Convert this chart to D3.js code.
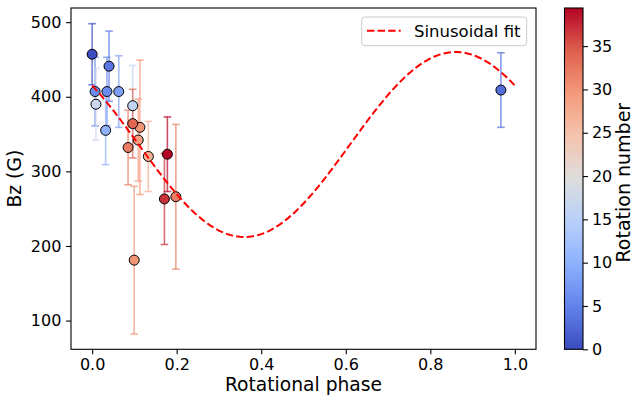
<!DOCTYPE html>
<html>
<head>
<meta charset="utf-8">
<script src="https://cdn.jsdelivr.net/npm/d3@7"></script>
<style>
  html, body { margin: 0; padding: 0; background: #fff; }
  svg { display: block; font-family: "DejaVu Sans", sans-serif; }
</style>
</head>
<body>
<svg id="chart" width="634" height="403"></svg>
<script>
// ---- data ----
const phases    = [0.000, 0.007, 0.009, 0.035, 0.040, 0.032, 0.063, 0.096, 0.096, 0.113, 0.109, 0.085, 0.133, 0.178, 0.171, 0.198, 0.0995, 0.967];
const bz        = [457,   407,   390,   407,   441,   355,   407,   388,   364,   359,   342,   332,   320,   323,   263,   266,   181,    409];
const bzErr     = [41,    46,    48,    46,    47,    46,    48,    54,    46,    90,    55,    50,    47,    50,    61,    97,    99,     50];
const rotations = [0,     6,     17,    6,     4,     10,    8,     16,    34,    30,    29,    32,    27,    39.4,  37,    32,    30,     3];

// sinusoidal fit parameters: Bz = mean + amp * cos(2*pi*(phase - peakPhase))
const fitMean = 336;
const fitAmp = 124;
const fitPeakPhase = 0.86;

const xTicks = [0.0, 0.2, 0.4, 0.6, 0.8, 1.0];
const yTicks = [100, 200, 300, 400, 500];
const cbarTicks = [0, 5, 10, 15, 20, 25, 30, 35];

// ---- layout ----
const svg = d3.select("#chart");
const plot = { left: 71, right: 536, top: 8, bottom: 349.3 };
const cbar = { left: 564.5, right: 583, top: 8, bottom: 349.3 };

const x = d3.scaleLinear().domain([-0.05, 1.05]).range([plot.left, plot.right]);
const y = d3.scaleLinear().domain([61.5, 519]).range([plot.bottom, plot.top]);
const cNorm = d3.scaleLinear().domain([0, 39.4]).range([0, 1]);

// coolwarm colormap approximation
const cwStops = [0, 0.125, 0.25, 0.375, 0.5, 0.625, 0.75, 0.875, 1];
const cwColors = ["rgb(59,76,192)", "rgb(98,130,234)", "rgb(141,176,254)", "rgb(184,208,249)",
                  "rgb(221,221,221)", "rgb(245,196,173)", "rgb(244,154,123)", "rgb(222,96,77)", "rgb(180,4,38)"];
const coolwarm = d3.scaleLinear().domain(cwStops).range(cwColors).interpolate(d3.interpolateRgb);
const colorOf = r => coolwarm(Math.max(0, Math.min(1, cNorm(r))));

const data = phases.map((p, i) => ({ p, v: bz[i], e: bzErr[i], r: rotations[i] }));

// ---- error bars ----
const capHalf = 3.8;
const eb = svg.append("g");
data.forEach(d => {
  const g = eb.append("g").attr("stroke", colorOf(d.r)).attr("stroke-opacity", 0.7).attr("stroke-width", 1.6);
  const cx = x(d.p);
  g.append("line").attr("x1", cx).attr("x2", cx).attr("y1", y(d.v - d.e)).attr("y2", y(d.v + d.e));
  g.append("line").attr("x1", cx - capHalf).attr("x2", cx + capHalf).attr("y1", y(d.v - d.e)).attr("y2", y(d.v - d.e));
  g.append("line").attr("x1", cx - capHalf).attr("x2", cx + capHalf).attr("y1", y(d.v + d.e)).attr("y2", y(d.v + d.e));
});

// ---- points ----
const sorted = data.slice().sort((a, b) => a.r - b.r);
svg.append("g").selectAll("circle").data(sorted).join("circle")
  .attr("cx", d => x(d.p)).attr("cy", d => y(d.v)).attr("r", 5)
  .attr("fill", d => colorOf(d.r)).attr("stroke", "#000").attr("stroke-width", 1);

// ---- fit line ----
const fitX = d3.range(0, 1.0001, 0.005);
const line = d3.line().x(p => x(p)).y(p => y(fitMean + fitAmp * Math.cos(2 * Math.PI * (p - fitPeakPhase))));
svg.append("path").datum(fitX).attr("d", line)
  .attr("fill", "none").attr("stroke", "red").attr("stroke-width", 2).attr("stroke-dasharray", "7.4,3.2");

// ---- axes frame ----
svg.append("rect").attr("x", plot.left).attr("y", plot.top)
  .attr("width", plot.right - plot.left).attr("height", plot.bottom - plot.top)
  .attr("fill", "none").attr("stroke", "#000").attr("stroke-width", 1.1);

const xAxis = d3.axisBottom(x).tickValues(xTicks).tickFormat(d3.format(".1f")).tickSize(4.9).tickPadding(4);
const gx = svg.append("g").attr("transform", `translate(0,${plot.bottom})`).call(xAxis);
gx.select(".domain").remove();
gx.selectAll("line").attr("stroke", "#000").attr("stroke-width", 1.1);
gx.selectAll("text").attr("font-size", 16).attr("fill", "#000").attr("font-family", "DejaVu Sans");

const yAxis = d3.axisLeft(y).tickValues(yTicks).tickSize(4.9).tickPadding(4.8);
const gy = svg.append("g").attr("transform", `translate(${plot.left},0)`).call(yAxis);
gy.select(".domain").remove();
gy.selectAll("line").attr("stroke", "#000").attr("stroke-width", 1.1);
gy.selectAll("text").attr("font-size", 16).attr("fill", "#000").attr("font-family", "DejaVu Sans");

// axis labels
svg.append("text").attr("x", (plot.left + plot.right) / 2).attr("y", 390.5)
  .attr("text-anchor", "middle").attr("font-size", 18.7).text("Rotational phase");
svg.append("text").attr("transform", `translate(21,${(plot.top + plot.bottom) / 2}) rotate(-90)`)
  .attr("text-anchor", "middle").attr("font-size", 18.7).text("Bz (G)");

// ---- legend ----
const lg = svg.append("g");
lg.append("rect").attr("x", 361.7).attr("y", 17).attr("width", 165).attr("height", 28.7)
  .attr("rx", 3).attr("fill", "#fff").attr("fill-opacity", 0.8).attr("stroke", "#cccccc").attr("stroke-width", 1);
lg.append("line").attr("x1", 367).attr("x2", 400.7).attr("y1", 30.7).attr("y2", 30.7)
  .attr("stroke", "red").attr("stroke-width", 2).attr("stroke-dasharray", "7.4,3.2");
lg.append("text").attr("x", 414).attr("y", 36.8).attr("font-size", 16.5).text("Sinusoidal fit");

// ---- colorbar ----
const defs = svg.append("defs");
const grad = defs.append("linearGradient").attr("id", "cwgrad")
  .attr("x1", 0).attr("y1", 1).attr("x2", 0).attr("y2", 0);
d3.range(0, 1.0001, 0.02).forEach(t => {
  grad.append("stop").attr("offset", t).attr("stop-color", coolwarm(t));
});
svg.append("rect").attr("x", cbar.left).attr("y", cbar.top)
  .attr("width", cbar.right - cbar.left).attr("height", cbar.bottom - cbar.top)
  .attr("fill", "url(#cwgrad)").attr("stroke", "#000").attr("stroke-width", 1.1);

const cy = d3.scaleLinear().domain([0, 39.4]).range([cbar.bottom, cbar.top]);
const cAxis = d3.axisRight(cy).tickValues(cbarTicks).tickSize(4.9).tickPadding(4);
const gc = svg.append("g").attr("transform", `translate(${cbar.right},0)`).call(cAxis);
gc.select(".domain").remove();
gc.selectAll("line").attr("stroke", "#000").attr("stroke-width", 1.1);
gc.selectAll("text").attr("font-size", 16).attr("fill", "#000").attr("font-family", "DejaVu Sans");

svg.append("text").attr("transform", `translate(629.5,${(cbar.top + cbar.bottom) / 2 + 4}) rotate(-90)`)
  .attr("text-anchor", "middle").attr("font-size", 19).text("Rotation number");
</script>
</body>
</html>
